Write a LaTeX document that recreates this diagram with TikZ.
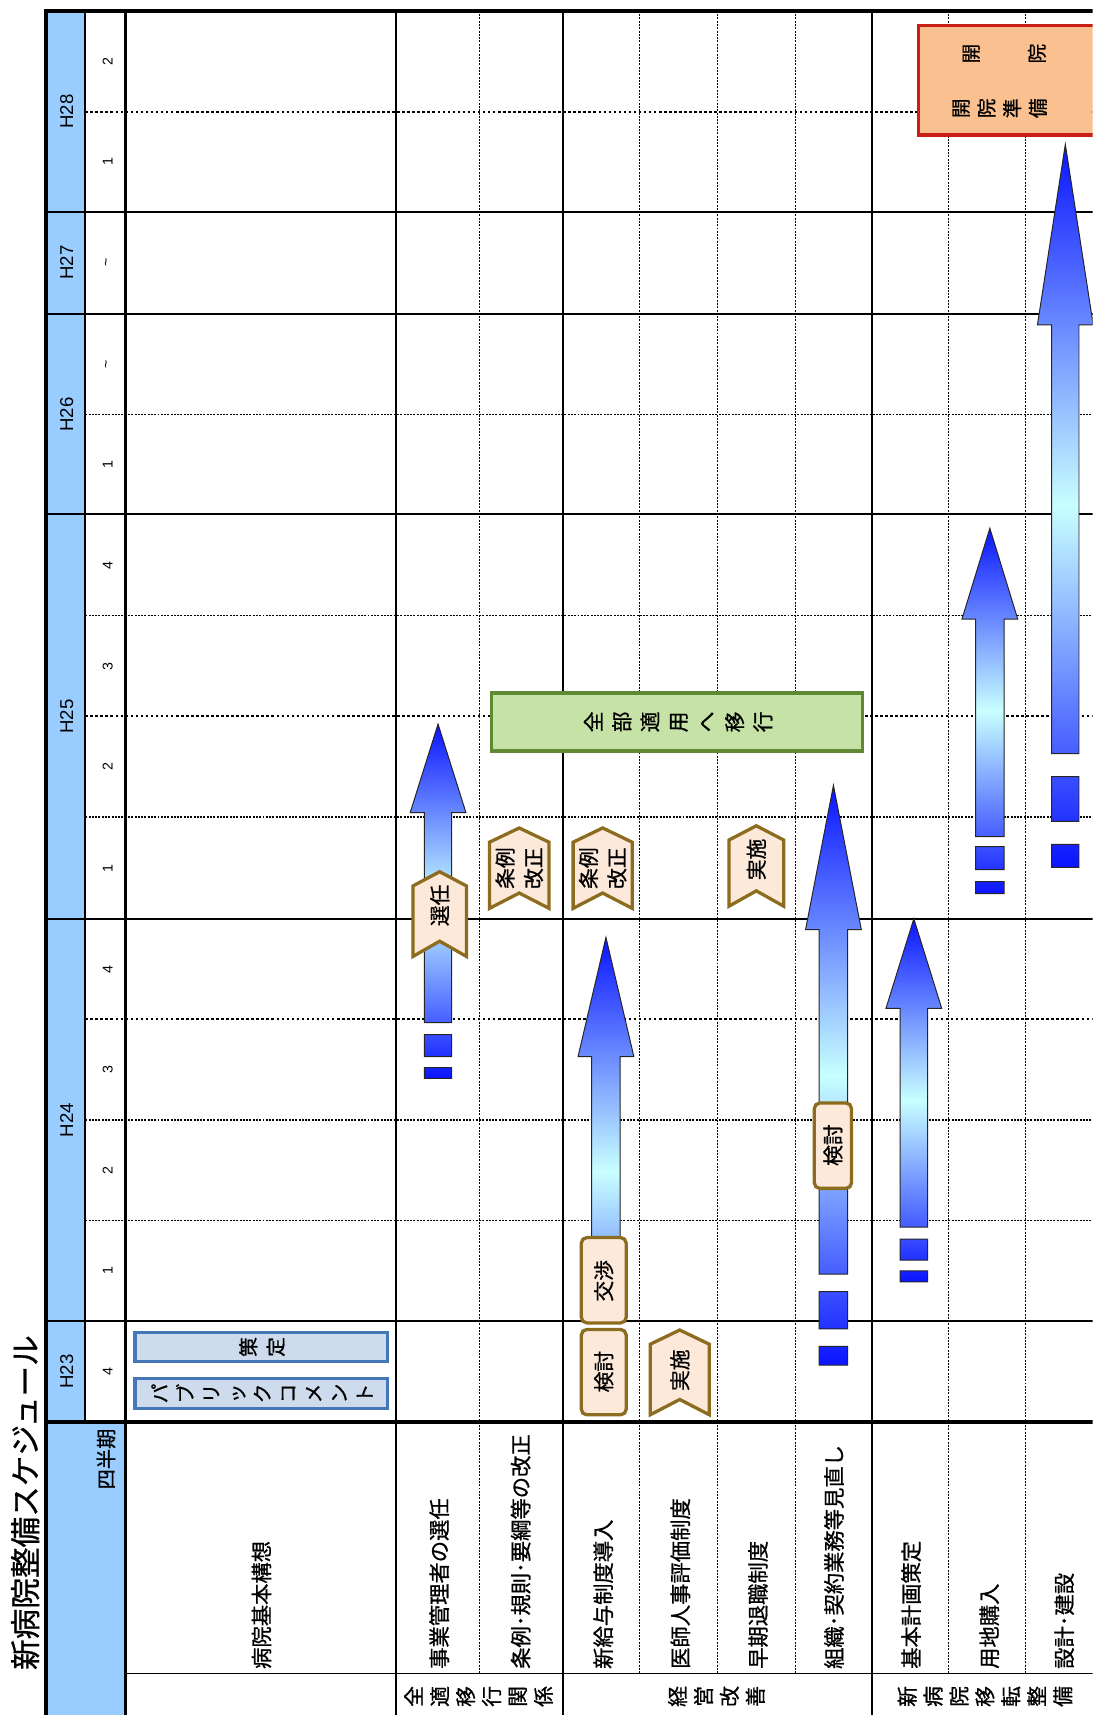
\documentclass[tikz,border=0pt]{standalone}
\usepackage{fontspec}
\setmainfont{Noto Sans CJK JP}[FakeBold=0.8]
\newfontfamily\arialf{Liberation Sans}
\definecolor{hdrblue}{RGB}{153,204,255}
\definecolor{peach}{RGB}{253,233,218}
\definecolor{brownb}{RGB}{140,108,30}
\definecolor{greenf}{RGB}{198,226,166}
\definecolor{greenb}{RGB}{96,138,50}
\definecolor{redf}{RGB}{250,192,144}
\definecolor{redb}{RGB}{200,32,20}
\definecolor{steelf}{RGB}{206,219,236}
\definecolor{steelb}{RGB}{70,120,185}
\definecolor{arrblue}{RGB}{10,20,255}
\definecolor{arrcyan}{RGB}{200,255,255}
\newcommand\stripearrow[9]{%
  \draw[arrowstyle] (#1,#2) -- (#1+25.5,#3) -- (#1+#4,#3) -- (#1+#4,#5) -- (#1-#4,#5) -- (#1-#4,#3) -- (#1-25.5,#3) -- cycle
    (#1-#4,#6) rectangle (#1+#4,#7) (#1-#4,#8) rectangle (#1+#4,#9);}
\newcommand\mychev[7]{% left right apex bottom name text yshift
  \draw[chevstyle] ({(#1+#2)/2},#3) -- (#2,#3+13) -- (#2,#4) -- ({(#1+#2)/2},#4-14) -- (#1,#4) -- (#1,#3+13) -- cycle;
  \node[rot, boxtext] (#5) at ({(#1+#2)/2},{(#3+#4)/2+#7}) {#6};}
\newcommand\tld{\char"7E\relax}
\begin{document}
\begin{tikzpicture}[x=1pt,y=-1pt,
  thickline/.style={line width=3pt},
  solidline/.style={line width=1.5pt},
  fineline/.style={line width=1pt, dash pattern=on 1.8pt off 1.2pt},
  dotline/.style={line width=1.8pt, dash pattern=on 2.4pt off 2.2pt},
  rot/.style={rotate=90, inner sep=0pt},
  itemtext/.style={font=\fontsize{19.5}{19.5}\selectfont},
  grouptext/.style={font=\fontsize{19}{23.7}\selectfont, align=center},
  boxtext/.style={font=\fontsize{19}{26}\selectfont, align=center},
  yeartext/.style={font=\arialf\fontsize{17}{17}\selectfont},
  qtext/.style={font=\arialf\fontsize{13}{13}\selectfont},
  arrowstyle/.style={draw=black!85, line width=0.9pt, top color=arrblue, bottom color=arrblue, middle color=arrcyan},
  chevstyle/.style={draw=brownb, fill=peach, line width=3pt, line join=miter},
  roundbox/.style={draw=brownb, fill=peach, line width=3pt, rounded corners=5pt},
]
\useasboundingbox (0,0) rectangle (999,1568);
\clip (0,0) rectangle (999,1568);
\fill[white] (0,0) rectangle (999,1568);
% header fills
\fill[hdrblue] (42,10) rectangle (78,1300);
\fill[hdrblue] (42,1300) rectangle (115,1568);
% horizontal grid
\foreach \yy in {102,655,932} \draw[dotline] (78,\yy) -- (1010,\yy);
\foreach \yy in {379,563,747,1024,1116} \draw[fineline] (78,\yy) -- (1010,\yy);
\foreach \yy in {194,287,470,840,1208} \draw[solidline] (42,\yy) -- (1010,\yy);
\draw[solidline] (115,1530) -- (1010,1530);
% vertical grid
\foreach \xx in {438,585,656,727,867,938} \draw[fineline] (\xx,10) -- (\xx,1530);
\foreach \xx in {362,515,797} \draw[solidline] (\xx,10) -- (\xx,1568);
\draw[solidline] (78,10) -- (78,1300);
\draw[thickline] (42,10) -- (1010,10);
\draw[thickline] (42,8.5) -- (42,1568);
\draw[thickline] (115,10) -- (115,1568);
\draw[line width=3.5pt] (42,1300) -- (1010,1300);
% title
\node[rot, anchor=west, font=\fontsize{28}{28}\selectfont] (title) at (23,1527) {新病院整備スケジュール};
% years
\node[rot, yeartext] (h28) at (61,102) {H28};
\node[rot, yeartext] (h27) at (61,240) {H27};
\node[rot, yeartext] (h26) at (61,379) {H26};
\node[rot, yeartext] (h25) at (61,655) {H25};
\node[rot, yeartext] (h24) at (61,1024) {H24};
\node[rot, yeartext] (h23) at (61,1254) {H23};
% quarters
\foreach \yy/\qq [count=\i] in {56/2,148/1,240/\tld,333/\tld,425/1,517/4,609/3,701/2,794/1,886/4,978/3,1070/2,1162/1,1254/4}
  \node[rot, qtext] (q\i) at (98.5,\yy) {\qq};
\node[rot, anchor=east, font=\fontsize{18.5}{18.5}\selectfont] (shihanki) at (97,1306) {四半期};
% item labels
\node[rot, anchor=west, itemtext] (i1) at (239,1526) {病院基本構想};
\node[rot, anchor=west, itemtext] (i2) at (401.5,1526) {事業管理者の選任};
\node[rot, anchor=west, itemtext] (i3) at (476,1526) {条例･規則･要綱等の改正};
\node[rot, anchor=west, itemtext] (i4) at (551.5,1526) {新給与制度導入};
\node[rot, anchor=west, itemtext] (i5) at (622,1526) {医師人事評価制度};
\node[rot, anchor=west, itemtext] (i6) at (693,1526) {早期退職制度};
\node[rot, anchor=west, itemtext] (i7) at (762.5,1526) {組織･契約業務等見直し};
\node[rot, anchor=west, itemtext] (i8) at (833,1526) {基本計画策定};
\node[rot, anchor=west, itemtext] (i9) at (904.5,1526) {用地購入};
\node[rot, anchor=west, itemtext] (i10) at (973,1526) {設計･建設};
% group labels
\node[rot, grouptext] (g1) at (437.5,1551) {全\\適\\移\\行\\関\\係};
\node[rot, grouptext] (g2) at (655,1551) {経\\営\\改\\善};
\node[rot, grouptext] (g3) at (900.5,1551) {新\\病\\院\\移\\転\\整\\備};
% arrows
\stripearrow{400.5}{662}{743}{12.5}{935}{946}{966}{976}{986}
\stripearrow{554}{857}{966}{13}{1200}{1222}{1250}{1262}{1285}
\stripearrow{762}{718}{850}{13}{1165}{1181}{1215}{1231}{1248}
\stripearrow{835.5}{840}{922}{12.5}{1122}{1133}{1152}{1162}{1172}
\stripearrow{905}{483}{566}{13}{765}{774}{795}{806}{817}
\stripearrow{974}{132}{297}{12.5}{689}{710}{751}{772}{793}
% blue boxes
\draw[steelb, fill=steelf, line width=3pt] (123.5,1218.5) rectangle (354.5,1244.5);
\node[rot, font=\fontsize{18}{25}\selectfont, align=center] (sakutei) at (239.5,1231.5) {策\\定};
\draw[steelb, fill=steelf, line width=3pt] (123.5,1260) rectangle (354.5,1287.5);
\node[rot, font=\fontsize{18}{23.4}\selectfont, align=center] (pubcom) at (239.5,1274) {パ\\ブ\\リ\\ッ\\ク\\コ\\メ\\ン\\ト};
% green box
\draw[greenb, fill=greenf, line width=3pt] (449.5,633.5) rectangle (788.5,686.5);
\node[rot, font=\fontsize{19}{25.8}\selectfont, align=center] (zenbu) at (620,660) {全\\部\\適\\用\\へ\\移\\行};
% red box
\draw[redb, fill=redf, line width=3pt] (839.5,23.5) rectangle (1015,123.5);
\node[rot, font=\fontsize{18}{18}\selectfont] (kai1) at (888,49) {開};
\node[rot, font=\fontsize{18}{18}\selectfont] (in1) at (948,49) {院};
\node[rot, font=\fontsize{18}{23.5}\selectfont, align=center] (kaiin) at (914,99) {開\\院\\準\\備};
% rounded boxes
\draw[roundbox] (531.5,1131.5) rectangle (572.5,1209.5);
\node[rot, boxtext] (koushou) at (552,1171) {交渉};
\draw[roundbox] (531.5,1215.5) rectangle (572.5,1293.5);
\node[rot, boxtext] (kentou1) at (552,1254) {検討};
\draw[roundbox] (744.5,1008.5) rectangle (778.5,1086.5);
\node[rot, boxtext] (kentou2) at (761.5,1047) {検討};
% chevrons
\mychev{377.5}{426.5}{797}{874.5}{senin}{選任}{-8}
\mychev{447.5}{502}{757}{830.5}{jourei1}{条例\\改正}{0}
\mychev{524}{578}{757}{830.5}{jourei2}{条例\\改正}{0}
\mychev{666.5}{716.5}{755}{828.5}{jisshi1}{実施}{-6}
\mychev{594.5}{648.5}{1216}{1293.5}{jisshi2}{実施}{-2}
\end{tikzpicture}
\end{document}
